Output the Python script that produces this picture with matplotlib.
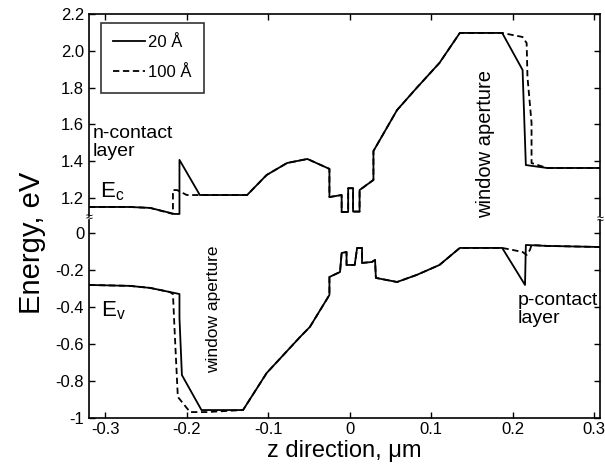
import matplotlib
matplotlib.use("Agg")
import matplotlib.pyplot as plt

plt.rcParams['font.family'] = ['Liberation Sans', 'DejaVu Sans']

# conduction band edge, 20 A and 100 A (upper panel)
ec_x_20 = [-0.320, -0.270, -0.245, -0.215, -0.209, -0.209, -0.184, -0.126, -0.102, -0.077,
           -0.052, -0.025, -0.025, -0.010, -0.010, -0.002, -0.002, 0.004, 0.004, 0.012,
           0.012, 0.029, 0.029, 0.058, 0.082, 0.110, 0.135, 0.187, 0.212, 0.216, 0.242, 0.307]
ec_e_20 = [1.151, 1.151, 1.146, 1.113, 1.113, 1.407, 1.216, 1.216, 1.325, 1.390,
           1.412, 1.358, 1.205, 1.216, 1.124, 1.124, 1.253, 1.253, 1.126, 1.126,
           1.243, 1.298, 1.455, 1.678, 1.798, 1.934, 2.097, 2.097, 1.896, 1.379, 1.363, 1.363]

ec_x_100 = [-0.320, -0.270, -0.245, -0.217, -0.217, -0.212, -0.200, -0.126, -0.102, -0.077,
            -0.052, -0.025, -0.025, -0.010, -0.010, -0.002, -0.002, 0.004, 0.004, 0.012,
            0.012, 0.029, 0.029, 0.058, 0.082, 0.110, 0.135, 0.187, 0.212, 0.217, 0.218,
            0.223, 0.223, 0.242, 0.307]
ec_e_100 = [1.151, 1.151, 1.146, 1.113, 1.243, 1.243, 1.216, 1.216, 1.325, 1.390,
            1.412, 1.358, 1.205, 1.216, 1.124, 1.124, 1.253, 1.253, 1.126, 1.126,
            1.243, 1.298, 1.455, 1.678, 1.798, 1.934, 2.097, 2.097, 2.075, 2.042, 1.858,
            1.608, 1.390, 1.363, 1.363]

# valence band edge (lower panel)
ev_x_20 = [-0.320, -0.270, -0.245, -0.221, -0.209, -0.209, -0.206, -0.182, -0.131, -0.102,
           -0.061, -0.049, -0.025, -0.025, -0.012, -0.010, -0.004, -0.004, 0.006, 0.009,
           0.015, 0.015, 0.027, 0.031, 0.032, 0.058, 0.082, 0.110, 0.135, 0.187, 0.215,
           0.216, 0.242, 0.307]
ev_e_20 = [-0.281, -0.286, -0.297, -0.319, -0.330, -0.459, -0.768, -0.957, -0.957, -0.757,
           -0.562, -0.508, -0.335, -0.238, -0.211, -0.108, -0.103, -0.173, -0.173, -0.081,
           -0.081, -0.162, -0.157, -0.146, -0.243, -0.265, -0.227, -0.173, -0.081, -0.081, -0.281,
           -0.065, -0.070, -0.076]

ev_x_100 = [-0.320, -0.270, -0.245, -0.221, -0.217, -0.215, -0.211, -0.196, -0.176, -0.131,
            -0.102, -0.061, -0.049, -0.025, -0.025, -0.012, -0.010, -0.004, -0.004, 0.006,
            0.009, 0.015, 0.015, 0.027, 0.031, 0.032, 0.058, 0.082, 0.110, 0.135, 0.187,
            0.200, 0.212, 0.217, 0.221, 0.223, 0.242, 0.307]
ev_e_100 = [-0.281, -0.286, -0.297, -0.319, -0.330, -0.524, -0.886, -0.968, -0.968, -0.957,
            -0.757, -0.562, -0.508, -0.335, -0.238, -0.211, -0.108, -0.103, -0.173, -0.173,
            -0.081, -0.081, -0.162, -0.157, -0.146, -0.243, -0.265, -0.227, -0.173, -0.081, -0.081,
            -0.092, -0.103, -0.119, -0.092, -0.065, -0.070, -0.076]

xticks = [-0.3, -0.2, -0.1, 0, 0.1, 0.2, 0.3]
xtick_labels = ['-0.3', '-0.2', '-0.1', '0', '0.1', '0.2', '0.3']
top_yticks = [1.2, 1.4, 1.6, 1.8, 2.0, 2.2]
top_ytick_labels = ['1.2', '1.4', '1.6', '1.8', '2.0', '2.2']
bot_yticks = [-1, -0.8, -0.6, -0.4, -0.2, 0]
bot_ytick_labels = ['-1', '-0.8', '-0.6', '-0.4', '-0.2', '0']

W, H = 605, 470
fig = plt.figure(figsize=(W / 100, H / 100), dpi=100)

def box(x0, y0, x1, y1):
    return [x0 / W, 1 - y1 / H, (x1 - x0) / W, (y1 - y0) / H]

ax_top = fig.add_axes(box(89, 14, 600, 216))
ax_bot = fig.add_axes(box(89, 220, 600, 418))

lw = 1.3
dash = (0, (3.5, 2))
ax_top.plot(ec_x_20, ec_e_20, color='black', lw=lw, label='20 Å')
ax_top.plot(ec_x_100, ec_e_100, color='black', lw=lw, ls=dash, label='100 Å')
ax_bot.plot(ev_x_20, ev_e_20, color='black', lw=lw)
ax_bot.plot(ev_x_100, ev_e_100, color='black', lw=lw, ls=dash)

xlim = (-0.320, 0.307)
ax_top.set_xlim(xlim)
ax_bot.set_xlim(xlim)
ax_top.set_ylim(1.102, 2.2)
ax_bot.set_ylim(-1, 0.070)

for ax in (ax_top, ax_bot):
    ax.set_xticks(xticks)
    for s in ax.spines.values():
        s.set_linewidth(1.2)
    ax.tick_params(direction='in', length=4, width=1, labelsize=12, left=True, right=True)

ax_top.spines['bottom'].set_visible(False)
ax_bot.spines['top'].set_visible(False)
ax_top.tick_params(axis='x', top=True, bottom=False, labelbottom=False)
ax_bot.tick_params(axis='x', top=False, bottom=True, pad=3)
ax_bot.set_xticklabels(xtick_labels)

ax_top.set_yticks(top_yticks)
ax_top.set_yticklabels(top_ytick_labels)
ax_bot.set_yticks(bot_yticks)
ax_bot.set_yticklabels(bot_ytick_labels)

# axis break marks
fig.text(89 / W, 1 - 218 / H, '≈', ha='center', va='center', fontsize=9)
fig.text(600 / W, 1 - 220 / H, '≈', ha='center', va='center', fontsize=9)

ax_bot.set_xlabel('z direction, μm', fontsize=17, labelpad=2)
fig.text(32 / W, 1 - 243 / H, 'Energy, eV', rotation=90, ha='center', va='center', fontsize=21)

leg = ax_top.legend(loc='upper left', bbox_to_anchor=(100.7 / W, 1 - 22.7 / H),
                    bbox_transform=fig.transFigure, borderaxespad=0, fontsize=12,
                    frameon=True, fancybox=False, handlelength=1.9, labelspacing=0.9,
                    handletextpad=0.2, borderpad=0.75)
leg.get_frame().set_edgecolor('black')
leg.get_frame().set_linewidth(1.2)

ax_top.text(-0.315, 1.595, 'n-contact\nlayer', ha='left', va='top', fontsize=14, linespacing=1.05)
ax_top.text(-0.306, 1.233, r'$\mathregular{E_c}$', ha='left', va='center', fontsize=16)
ax_bot.text(-0.305, -0.422, r'$\mathregular{E_v}$', ha='left', va='center', fontsize=16)
ax_bot.text(-0.167, -0.411, 'window aperture', rotation=90, ha='center', va='center', fontsize=12.5)
ax_top.text(0.166, 1.493, 'window aperture', rotation=90, ha='center', va='center', fontsize=14.5)
ax_bot.text(0.206, -0.319, 'p-contact\nlayer', ha='left', va='top', fontsize=14, linespacing=1.05)

fig.savefig('out.png', dpi=100)
